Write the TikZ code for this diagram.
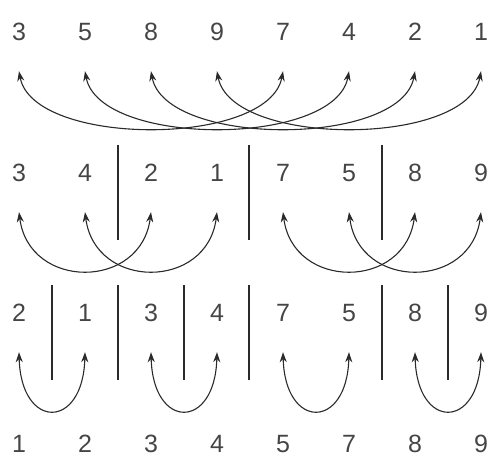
\documentclass[tikz,border=0pt]{standalone}
\usepackage{fontspec}
\setmainfont{Liberation Sans}
\usetikzlibrary{arrows.meta}
\definecolor{numgray}{HTML}{454545}
\definecolor{linegray}{HTML}{2A2A2A}
\tikzset{
  num/.style={minimum height=78pt, inner sep=0pt, text=numgray,
    font=\fontsize{25}{30}\selectfont},
  swap/.style={<->, line width=1.1pt, linegray},
  sep/.style={line width=1.5pt, linegray}
}
\begin{document}
\begin{tikzpicture}[x=1pt, y=-1pt, >={Stealth[length=10pt,width=7pt]}]
				\useasboundingbox (0,0) rectangle (493,466);
				% row 1
				\node[num] (r1c1) at (19, 32) {3};
				\node[num] (r1c2) at (85, 32) {5};
				\node[num] (r1c3) at (151, 32) {8};
				\node[num] (r1c4) at (217, 32) {9};
				\node[num] (r1c5) at (283, 32) {7};
				\node[num] (r1c6) at (349, 32) {4};
				\node[num] (r1c7) at (415, 32) {2};
				\node[num] (r1c8) at (481, 32) {1};
				% row 2
				\node[num] (r2c1) at (19, 173) {3};
				\node[num] (r2c2) at (85, 173) {4};
				\node[num] (r2c3) at (151, 173) {2};
				\node[num] (r2c4) at (217, 173) {1};
				\node[num] (r2c5) at (283, 173) {7};
				\node[num] (r2c6) at (349, 173) {5};
				\node[num] (r2c7) at (415, 173) {8};
				\node[num] (r2c8) at (481, 173) {9};
				% row 3
				\node[num] (r3c1) at (19, 313) {2};
				\node[num] (r3c2) at (85, 313) {1};
				\node[num] (r3c3) at (151, 313) {3};
				\node[num] (r3c4) at (217, 313) {4};
				\node[num] (r3c5) at (283, 313) {7};
				\node[num] (r3c6) at (349, 313) {5};
				\node[num] (r3c7) at (415, 313) {8};
				\node[num] (r3c8) at (481, 313) {9};
				% row 4
				\node[num] (r4c1) at (19, 444) {1};
				\node[num] (r4c2) at (85, 444) {2};
				\node[num] (r4c3) at (151, 444) {3};
				\node[num] (r4c4) at (217, 444) {4};
				\node[num] (r4c5) at (283, 444) {5};
				\node[num] (r4c6) at (349, 444) {7};
				\node[num] (r4c7) at (415, 444) {8};
				\node[num] (r4c8) at (481, 444) {9};
				% separators
				\draw[sep] (118, 145) -- (118, 240);
				\draw[sep] (249, 145) -- (249, 240);
				\draw[sep] (382, 145) -- (382, 240);
				\draw[sep] (52, 285) -- (52, 380);
				\draw[sep] (118, 285) -- (118, 380);
				\draw[sep] (184, 285) -- (184, 380);
				\draw[sep] (249, 285) -- (249, 380);
				\draw[sep] (382, 285) -- (382, 380);
				\draw[sep] (448, 285) -- (448, 380);
				% distance 4
				\draw[swap] (r1c1.south) .. controls +(14, 76) and +(-14, 76) .. (r1c5.south);
				\draw[swap] (r1c2.south) .. controls +(14, 76) and +(-14, 76) .. (r1c6.south);
				\draw[swap] (r1c3.south) .. controls +(14, 76) and +(-14, 76) .. (r1c7.south);
				\draw[swap] (r1c4.south) .. controls +(14, 76) and +(-14, 76) .. (r1c8.south);
				% distance 2
				\draw[swap] (r2c1.south) .. controls +(10, 78) and +(-10, 78) .. (r2c3.south);
				\draw[swap] (r2c2.south) .. controls +(10, 78) and +(-10, 78) .. (r2c4.south);
				\draw[swap] (r2c5.south) .. controls +(10, 78) and +(-10, 78) .. (r2c7.south);
				\draw[swap] (r2c6.south) .. controls +(10, 78) and +(-10, 78) .. (r2c8.south);
				% distance 1
				\draw[swap] (r3c1.south) .. controls +(2, 78) and +(-2, 78) .. (r3c2.south);
				\draw[swap] (r3c3.south) .. controls +(2, 78) and +(-2, 78) .. (r3c4.south);
				\draw[swap] (r3c5.south) .. controls +(2, 78) and +(-2, 78) .. (r3c6.south);
				\draw[swap] (r3c7.south) .. controls +(2, 78) and +(-2, 78) .. (r3c8.south);
			\end{tikzpicture}
\end{document}
